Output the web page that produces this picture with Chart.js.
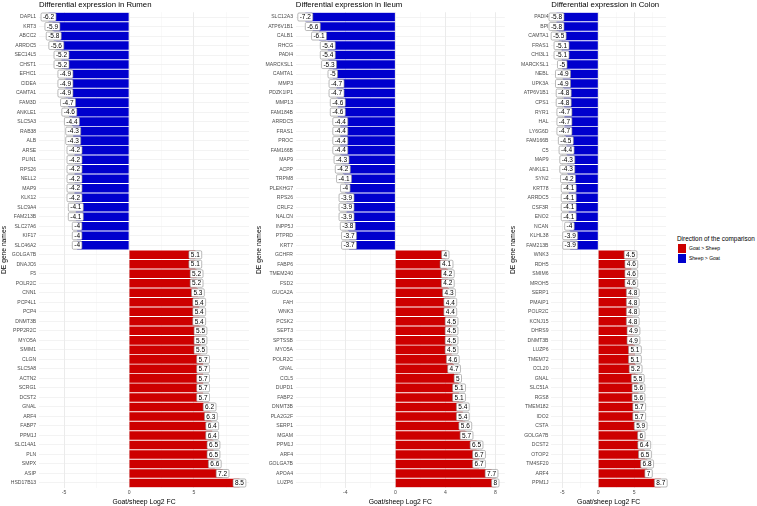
<!DOCTYPE html>
<html>
<head>
<meta charset="utf-8">
<script src="https://cdn.jsdelivr.net/npm/chart.js@4.4.1/dist/chart.umd.min.js"></script>
<style>
  body { margin: 0; background: #fff; width: 757px; height: 506px; overflow: hidden; position: relative;
         font-family: 'Liberation Sans', Arial, sans-serif; }
  canvas { position: absolute; top: 0; }
  .lg { position: absolute; white-space: nowrap; }
  .lg-title { left: 677px; top: 234.5px; font-size: 6.4px; color: #000; }
  .lg-key { left: 678px; width: 8px; height: 8.5px; }
  .lg-text { left: 689px; font-size: 5px; color: #000; }
</style>
</head>
<body>
<canvas id="chart-rumen" width="250" height="506" style="left:0px"></canvas>
<canvas id="chart-ileum" width="255" height="506" style="left:250px"></canvas>
<canvas id="chart-colon" width="165" height="506" style="left:505px"></canvas>

<div class="lg lg-title">Direction of the comparison</div>
<div class="lg lg-key" style="top:244px;background:#cd0000"></div>
<div class="lg lg-text" style="top:245px">Goat &gt; Sheep</div>
<div class="lg lg-key" style="top:254px;background:#0000cd"></div>
<div class="lg lg-text" style="top:255px">Sheep &gt; Goat</div>

<script>
// gene names top -> bottom, log2 fold change (goat/sheep)
const rumenGenes = ['DAPL1','KRT3','ABCC2','ARRDC5','SEC14L5','CHST1','EFHC1','CIDEA','CAMTA1','FAM3D',
  'ANKLE1','SLC5A3','RAB38','ALB','ARSE','PLIN1','RPS26','NELL2','MAP9','KLK12',
  'SLC9A4','FAM213B','SLC27A6','KIF17','SLC46A2',
  'GOLGA7B','DNAJC6','F5','POLR2C','CNN1','PCP4L1','PCP4','DNMT3B','PPP2R2C','MYO5A',
  'SMIM1','CLGN','SLC5A8','ACTN2','SCRG1','DCST2','GNAL','ARF4','FABP7','PPM1J',
  'SLC14A1','PLN','SMPX','ASIP','HSD17B13'];
const rumenFC = [-6.2,-5.9,-5.8,-5.6,-5.2,-5.2,-4.9,-4.9,-4.9,-4.7,
  -4.6,-4.4,-4.3,-4.3,-4.2,-4.2,-4.2,-4.2,-4.2,-4.2,
  -4.1,-4.1,-4,-4,-4,
  5.1,5.1,5.2,5.2,5.3,5.4,5.4,5.4,5.5,5.5,
  5.5,5.7,5.7,5.7,5.7,5.7,6.2,6.3,6.4,6.4,
  6.5,6.5,6.6,7.2,8.5];

const ileumGenes = ['SLC12A3','ATP6V1B1','CALB1','RHCG','PADI4','MARCKSL1','CAMTA1','MMP3','PDZK1IP1','MMP13',
  'FAM184B','ARRDC5','FRAS1','PROC','FAM166B','MAP9','ACPP','TRPM8','PLEKHG7','RPS26',
  'CRLF2','NALCN','INPP5J','PTPRD','KRT7',
  'GCHFR','FABP6','TMEM240','FSD2','GUCA2A','FAH','WNK3','PCSK2','SEPT3','SPTSSB',
  'MYO5A','POLR2C','GNAL','CCL5','DUPD1','FABP2','DNMT3B','PLA2G2F','SERP1','MGAM',
  'PPM1J','ARF4','GOLGA7B','APOA4','LUZP6'];
const ileumFC = [-7.2,-6.6,-6.1,-5.4,-5.4,-5.3,-5,-4.7,-4.7,-4.6,
  -4.6,-4.4,-4.4,-4.4,-4.4,-4.3,-4.2,-4.1,-4,-3.9,
  -3.9,-3.9,-3.8,-3.7,-3.7,
  4,4.1,4.2,4.2,4.3,4.4,4.4,4.5,4.5,4.5,
  4.5,4.6,4.7,5,5.1,5.1,5.4,5.4,5.6,5.7,
  6.5,6.7,6.7,7.7,8];

const colonGenes = ['PADI4','BPI','CAMTA1','FRAS1','CHI3L1','MARCKSL1','NEBL','UPK3A','ATP6V1B1','CPS1',
  'RYR1','HAL','LY6G6D','FAM166B','C5','MAP9','ANKLE1','SYN2','KRT78','ARRDC5',
  'CSF3R','ENO2','NCAN','KLHL38','FAM213B',
  'WNK3','RDH5','SMIM6','MROH5','SERP1','PMAIP1','POLR2C','KCNJ15','DHRS9','DNMT3B',
  'LUZP6','TMEM72','CCL20','GNAL','SLC51A','RGS8','TMEM182','IDO2','CSTA','GOLGA7B',
  'DCST2','OTOP2','TM4SF20','ARF4','PPM1J'];
const colonFC = [-5.8,-5.8,-5.5,-5.1,-5.1,-5,-4.9,-4.9,-4.8,-4.8,
  -4.7,-4.7,-4.7,-4.5,-4.4,-4.3,-4.3,-4.2,-4.1,-4.1,
  -4.1,-4.1,-4,-3.9,-3.9,
  4.5,4.6,4.6,4.6,4.8,4.8,4.8,4.8,4.9,4.9,
  5.1,5.1,5.2,5.5,5.6,5.6,5.7,5.7,5.9,6,
  6.4,6.5,6.8,7,8.7];

// x axis breaks (labelled) and minor breaks
const rumenTicks = [-5, 0, 5];
const rumenMinor = [-2.5, 2.5, 7.5];
const ileumTicks = [-4, 0, 4, 8];
const ileumMinor = [-6, -2, 2, 6];
const colonTicks = [-5, 0, 5];
const colonMinor = [-2.5, 2.5, 7.5];

const FONT = "'Liberation Sans', Arial, sans-serif";
const RED = '#cd0000';
const BLUE = '#0000cd';
const AXIS_GREY = '#4d4d4d';

// boxed value labels centred on each bar end (like geom_label)
const valueLabels = {
  id: 'valueLabels',
  afterDatasetsDraw(chart) {
    const ctx = chart.ctx;
    const meta = chart.getDatasetMeta(0);
    const vals = chart.data.datasets[0].data;
    ctx.save();
    ctx.font = '6.5px ' + FONT;
    ctx.textAlign = 'center';
    ctx.textBaseline = 'middle';
    meta.data.forEach((bar, i) => {
      const txt = String(vals[i]);
      const w = ctx.measureText(txt).width + 3.8;
      const h = 8;
      ctx.beginPath();
      ctx.roundRect(bar.x - w / 2, bar.y - h / 2, w, h, 1.2);
      ctx.fillStyle = '#fff';
      ctx.fill();
      ctx.strokeStyle = '#8c8c8c';
      ctx.lineWidth = 0.6;
      ctx.stroke();
      ctx.fillStyle = '#000';
      ctx.fillText(txt, bar.x, bar.y + 0.4);
    });
    ctx.restore();
  }
};

function makePanel(id, title, genes, values, major, minor, lay) {
  const lo = Math.min(...values), hi = Math.max(...values);
  const ext = (hi - lo) * 0.05; // ggplot default expansion
  const all = major.concat(minor).sort((a, b) => a - b);

  return new Chart(document.getElementById(id).getContext('2d'), {
    type: 'bar',
    data: {
      labels: genes,
      datasets: [{
        data: values,
        backgroundColor: values.map(v => v > 0 ? RED : BLUE),
        barPercentage: 0.9,
        categoryPercentage: 1
      }]
    },
    options: {
      indexAxis: 'y',
      responsive: false,
      animation: false,
      events: [],
      layout: { padding: { left: 0, right: lay.padRight, top: 0, bottom: 0 } },
      plugins: {
        legend: { display: false },
        tooltip: { enabled: false },
        title: {
          display: true, text: title, align: 'start', fullSize: false, color: '#000',
          font: { size: 7.8, family: FONT, weight: 'normal' },
          padding: { top: 0, bottom: 2.9 }
        }
      },
      scales: {
        x: {
          type: 'linear', min: lo - ext, max: hi + ext,
          afterBuildTicks: s => { s.ticks = all.map(v => ({ value: v })); },
          afterFit: s => { s.height = 18.25; },
          ticks: {
            autoSkip: false, maxRotation: 0, padding: 2.2, color: AXIS_GREY,
            font: { size: 5.1, family: FONT },
            callback: v => major.includes(v) ? String(v) : ''
          },
          grid: {
            drawTicks: false,
            color: c => major.includes(c.tick.value) ? '#e6e6e6' : '#f2f2f2',
            lineWidth: c => major.includes(c.tick.value) ? 0.8 : 0.5
          },
          border: { display: false },
          title: {
            display: true, text: 'Goat/sheep Log2 FC', color: '#000',
            font: { size: 6.8, family: FONT }, padding: { top: 0, bottom: 0 }
          }
        },
        y: {
          afterFit: s => { s.width = lay.yWidth; },
          ticks: { autoSkip: false, padding: 2.8, color: AXIS_GREY, font: { size: 5.1, family: FONT } },
          grid: { offset: false, drawTicks: false, color: '#ebebeb', lineWidth: 0.6 },
          border: { display: false },
          title: {
            display: true, text: 'DE gene names', color: '#000',
            font: { size: 6.7, family: FONT }, padding: { top: lay.titlePad, bottom: 0 }
          }
        }
      }
    },
    plugins: [valueLabels]
  });
}

makePanel('chart-rumen', 'Differential expression in Rumen', rumenGenes, rumenFC, rumenTicks, rumenMinor,
  { yWidth: 39, padRight: 1, titlePad: 0.5 });
makePanel('chart-ileum', 'Differential expression in Ileum', ileumGenes, ileumFC, ileumTicks, ileumMinor,
  { yWidth: 45.8, padRight: 0.2, titlePad: 5 });
makePanel('chart-colon', 'Differential expression in Colon', colonGenes, colonFC, colonTicks, colonMinor,
  { yWidth: 46.3, padRight: 4, titlePad: 4 });
</script>
</body>
</html>
